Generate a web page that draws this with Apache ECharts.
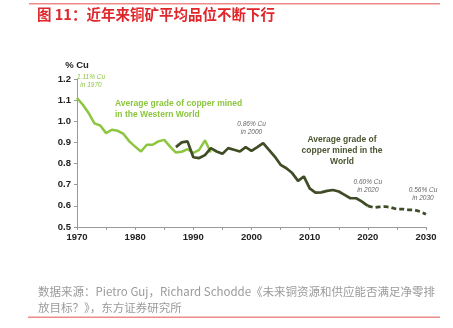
<!DOCTYPE html>
<html>
<head>
<meta charset="utf-8">
<script src="https://cdn.jsdelivr.net/npm/echarts@6/dist/echarts.min.js"></script>
<style>
  html, body { margin: 0; padding: 0; background: #fff; }
  #chart { width: 453px; height: 328px; }
</style>
</head>
<body>
<div id="chart"></div>
<script>
// Average copper ore grade (% Cu)
const westernYears = [1970, 1971, 1972, 1973, 1974, 1975, 1976, 1977, 1978, 1979, 1980, 1981,
  1982, 1983, 1984, 1985, 1986, 1987, 1988, 1989, 1990, 1991, 1992, 1993];
const westernGrade = [1.11, 1.078, 1.039, 0.99, 0.98, 0.944, 0.96, 0.955, 0.94, 0.905, 0.88, 0.857,
  0.889, 0.889, 0.905, 0.912, 0.88, 0.852, 0.856, 0.868, 0.85, 0.865, 0.91, 0.852];

const worldYears = [1987, 1988, 1989, 1990, 1991, 1992, 1993, 1994, 1995, 1996, 1997, 1998, 1999,
  2000, 2001, 2002, 2003, 2004, 2005, 2006, 2007, 2008, 2009, 2010, 2011, 2012, 2013, 2014,
  2015, 2016, 2017, 2018, 2019, 2020];
const worldGrade = [0.878, 0.9, 0.905, 0.83, 0.826, 0.84, 0.873, 0.857, 0.846, 0.873, 0.865, 0.857, 0.878,
  0.86, 0.878, 0.897, 0.865, 0.833, 0.794, 0.778, 0.755, 0.718, 0.739, 0.683, 0.663, 0.664, 0.671, 0.675,
  0.668, 0.652, 0.636, 0.636, 0.62, 0.60];

const forecastYears = [2020, 2021, 2022, 2023, 2024, 2025, 2026, 2027, 2028, 2029, 2030];
const forecastGrade = [0.60, 0.592, 0.595, 0.597, 0.592, 0.584, 0.585, 0.581, 0.581, 0.573, 0.56];

const xTicks = [1970, 1980, 1990, 2000, 2010, 2020, 2030];
const yTicks = [0.5, 0.6, 0.7, 0.8, 0.9, 1.0, 1.1, 1.2];

const GREEN = '#8cc63f';
const DARK = '#3f4c26';
const FONT = 'Liberation Sans, Arial, sans-serif';
const CJK = '"Noto Sans CJK SC", sans-serif';

const pairs = (xs, ys) => xs.map((x, i) => [x, ys[i]]);
const valueAt = (xs, ys, yr) => ys[xs.indexOf(yr)];

// Small italic call-out showing a series value for a given year
function note(xs, ys, yr, text, color, offset) {
  return {
    coord: [yr, valueAt(xs, ys, yr)],
    symbolSize: 0,
    label: {
      show: true, position: 'inside', offset: offset,
      formatter: text.replace('{v}', valueAt(xs, ys, yr).toFixed(2)) + '\nin ' + yr,
      color: color, fontFamily: FONT, fontStyle: 'italic', fontSize: 6.5, lineHeight: 8, align: 'center'
    }
  };
}

const chart = echarts.init(document.getElementById('chart'));
chart.setOption({
  animation: false,
  grid: { left: 77, right: 27, top: 79, bottom: 101 },
  xAxis: {
    type: 'value', min: 1970, max: 2030, interval: 5,
    axisLine: { show: true, lineStyle: { color: '#999', width: 1 } },
    axisTick: { show: true, length: 3, lineStyle: { color: '#999' } },
    splitLine: { show: false },
    axisLabel: {
      formatter: v => (xTicks.includes(v) ? String(v) : ''),
      color: '#222', fontFamily: FONT, fontWeight: 'bold', fontSize: 9.5, margin: 5
    }
  },
  yAxis: {
    type: 'value', min: 0.5, max: 1.2, interval: 0.1,
    name: '% Cu', nameLocation: 'end', nameGap: 9,
    nameTextStyle: { color: '#222', fontFamily: FONT, fontWeight: 'bold', fontSize: 9.5, align: 'center' },
    axisLine: { show: true, lineStyle: { color: '#999', width: 1 } },
    axisTick: { show: true, length: 3, lineStyle: { color: '#999' } },
    splitLine: { show: false },
    axisLabel: {
      formatter: v => { const t = yTicks.find(k => Math.abs(k - v) < 1e-6); return t === undefined ? '' : t.toFixed(1); },
      color: '#222', fontFamily: FONT, fontWeight: 'bold', fontSize: 9.5, margin: 6
    }
  },
  series: [
    {
      type: 'line', data: pairs(westernYears, westernGrade), showSymbol: false, z: 2,
      lineStyle: { color: GREEN, width: 2.5 },
      markPoint: { data: [note(westernYears, westernGrade, 1970, '{v}% Cu', GREEN, [14, -17])] }
    },
    {
      type: 'line', data: pairs(worldYears, worldGrade), showSymbol: false, z: 3,
      lineStyle: { color: DARK, width: 2.7 },
      markPoint: {
        data: [
          note(worldYears, worldGrade, 2000, '{v}% Cu', '#666', [0, -23]),
          note(worldYears, worldGrade, 2020, '{v}% Cu', '#666', [0, -20])
        ]
      }
    },
    {
      type: 'line', data: pairs(forecastYears, forecastGrade), showSymbol: false, z: 3,
      lineStyle: { color: DARK, width: 2.7, type: [5, 3] },
      markPoint: { data: [note(forecastYears, forecastGrade, 2030, '{v}% Cu', '#666', [-3, -20])] }
    }
  ],
  graphic: [
    { type: 'rect', shape: { x: 29, y: 3, width: 411, height: 1.5 }, style: { fill: '#ef8a8a' } },
    { type: 'text', left: 37, top: 7, style: { text: '图 11：近年来铜矿平均品位不断下行', fill: '#e0262b', font: 'bold 14.5px ' + CJK } },
    { type: 'text', left: 115, top: 98, style: { text: 'Average grade of copper mined\nin the Western World', fill: GREEN, font: 'bold 8.5px ' + FONT, lineHeight: 11 } },
    { type: 'text', x: 342, y: 134, style: { text: 'Average grade of\ncopper mined in the\nWorld', fill: '#4a5530', font: 'bold 8.5px ' + FONT, lineHeight: 11, align: 'center' } },
    { type: 'text', left: 38, top: 283, style: { text: '数据来源：Pietro Guj，Richard Schodde《未来铜资源和供应能否满足净零排\n放目标？》，东方证券研究所', fill: '#9a9a9a', font: '11.5px ' + CJK, lineHeight: 16.5 } },
    { type: 'rect', shape: { x: 28, y: 316.5, width: 412, height: 1.5 }, style: { fill: '#ef8a8a' } }
  ]
});
</script>
</body>
</html>
